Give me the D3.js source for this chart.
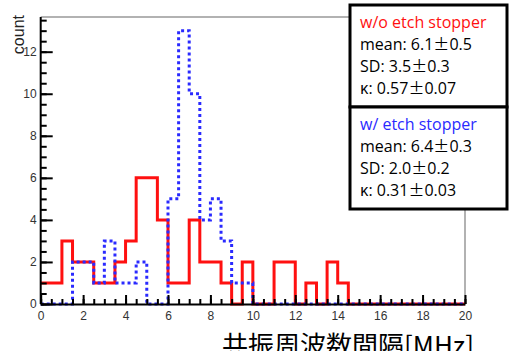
<!DOCTYPE html>
<html lang="ja">
<head>
<meta charset="utf-8">
<title>Histogram: with / without etch stopper</title>
<style>
  body { margin: 0; background: #fff; }
  svg { display: block; }
</style>
</head>
<body>
<script src="https://d3js.org/d3.v7.min.js"></script>
<script>
// bin edges: 0..20, width 0.5
var binWidth = 0.5;
var binStart = 0;
// w/o etch stopper (red)
var countsNoStop = [1, 1, 3, 2, 2, 1, 1, 2, 3, 6,
                    6, 4, 1, 1, 4, 2, 2, 1, 0, 2,
                    0, 0, 2, 2, 0, 1, 0, 2, 1, 0,
                    0, 0, 0, 0, 0, 0, 0, 0, 0, 0];
// w/ etch stopper (blue)
var countsStop = [0, 0, 0, 2, 2, 1, 3, 1, 1, 2,
                  0, 0, 5, 13, 10, 4, 5, 3, 1, 1,
                  0, 0, 0, 0, 0, 0, 0, 0, 0, 0,
                  0, 0, 0, 0, 0, 0, 0, 0, 0, 0];
var xTicks = [0, 2, 4, 6, 8, 10, 12, 14, 16, 18, 20];
var yTicks = [0, 2, 4, 6, 8, 10, 12];

var legendNoStop = ["w/o etch stopper", "mean: 6.1\u00b10.5", "SD: 3.5\u00b10.3", "\u03ba: 0.57\u00b10.07"];
var legendStop = ["w/ etch stopper", "mean: 6.4\u00b10.3", "SD: 2.0\u00b10.2", "\u03ba: 0.31\u00b10.03"];

var w = 509, h = 351;
var plotL = 40.7, plotR = 465, plotT = 17, plotB = 304;

var svg = d3.select("body").append("svg")
    .attr("width", w)
    .attr("height", h);

var x = d3.scaleLinear().domain([0, 20]).range([plotL, plotR]);
var y = d3.scaleLinear().domain([0, 13.65]).range([plotB, plotT]);

// frame (top and right, gray)
svg.append("path")
    .attr("d", "M" + plotL + "," + plotT + "H" + plotR + "V" + plotB)
    .attr("fill", "none")
    .attr("stroke", "#999")
    .attr("stroke-width", 1.5);

// histogram step lines
function steps(counts) {
  var pts = counts.map(function(v, i) { return [binStart + i * binWidth, v]; });
  pts.push([binStart + counts.length * binWidth, counts[counts.length - 1]]);
  return pts;
}
var line = d3.line()
    .x(function(d) { return x(d[0]); })
    .y(function(d) { return y(d[1]); })
    .curve(d3.curveStepAfter);

svg.append("path")
    .datum(steps(countsNoStop))
    .attr("d", line)
    .attr("fill", "none")
    .attr("stroke", "#ff1010")
    .attr("stroke-width", 3);

svg.append("path")
    .datum(steps(countsStop))
    .attr("d", line)
    .attr("fill", "none")
    .attr("stroke", "#2a2aff")
    .attr("stroke-width", 3)
    .attr("stroke-dasharray", "3,3");

// axes
function styleAxis(g) {
  g.select(".domain").attr("stroke", "#000").attr("stroke-width", 2);
  g.selectAll(".tick line").attr("stroke", "#000").attr("stroke-width", 2);
  g.selectAll(".tick text")
    .attr("fill", "#333")
    .attr("font-family", "Liberation Sans, Arial, sans-serif")
    .attr("font-size", "12px");
}

var yMinor = svg.append("g")
    .attr("transform", "translate(" + plotL + ",0)")
    .call(d3.axisLeft(y).tickValues(d3.range(0, 13.6, 0.5)).tickSize(-6).tickFormat(""));
styleAxis(yMinor);
yMinor.select(".domain").remove();

var yMajor = svg.append("g")
    .attr("transform", "translate(" + plotL + ",0)")
    .call(d3.axisLeft(y).tickValues(yTicks).tickSizeInner(-12).tickSizeOuter(0).tickPadding(4));
styleAxis(yMajor);
yMajor.select(".domain").attr("d", "M0," + plotT + "V" + plotB);

var xMinor = svg.append("g")
    .attr("transform", "translate(0," + plotB + ")")
    .call(d3.axisBottom(x).tickValues(d3.range(0, 20.01, 0.5)).tickSize(-5).tickFormat(""));
styleAxis(xMinor);
xMinor.select(".domain").remove();

var xMajor = svg.append("g")
    .attr("transform", "translate(0," + plotB + ")")
    .call(d3.axisBottom(x).tickValues(xTicks).tickSizeInner(-9).tickSizeOuter(0).tickPadding(7));
styleAxis(xMajor);

// axis titles
svg.append("text")
    .attr("transform", "translate(24,15) rotate(-90)")
    .attr("text-anchor", "end")
    .attr("font-family", "Liberation Sans, Arial, sans-serif")
    .attr("font-size", "16px")
    .attr("fill", "#222")
    .text("count");

svg.append("text")
    .attr("x", 222)
    .attr("y", 355)
    .attr("font-family", "Noto Sans CJK JP, sans-serif")
    .attr("font-size", "26px")
    .attr("fill", "#000")
    .text("共振周波数間隔[MHz]");

// legend boxes
function legendBox(y0, y1, lines, color) {
  svg.append("rect")
      .attr("x", 350).attr("y", y0)
      .attr("width", 157).attr("height", y1 - y0)
      .attr("fill", "#fff")
      .attr("stroke", "#000")
      .attr("stroke-width", 3);
  var t = svg.append("g").selectAll("text")
      .data(lines)
      .enter()
      .append("text")
      .attr("x", 360)
      .attr("y", function(d, i) { return y0 + 23 + i * 22; })
      .attr("font-family", "Open Sans, sans-serif")
      .attr("font-size", "16px")
      .attr("fill", function(d, i) { return i === 0 ? color : "#000"; });
  // the ± sign is a wide (CJK) glyph in the reference
  t.each(function(d) {
    var parts = d.split("\u00b1");
    var sel = d3.select(this);
    parts.forEach(function(p, k) {
      if (k > 0) {
        sel.append("tspan")
          .attr("font-family", "Noto Sans CJK JP, sans-serif")
          .text("\u00b1");
      }
      sel.append("tspan").text(p);
    });
  });
}
legendBox(5, 107, legendNoStop, "#ff1010");
legendBox(107, 209, legendStop, "#2a2aff");
</script>
</body>
</html>
